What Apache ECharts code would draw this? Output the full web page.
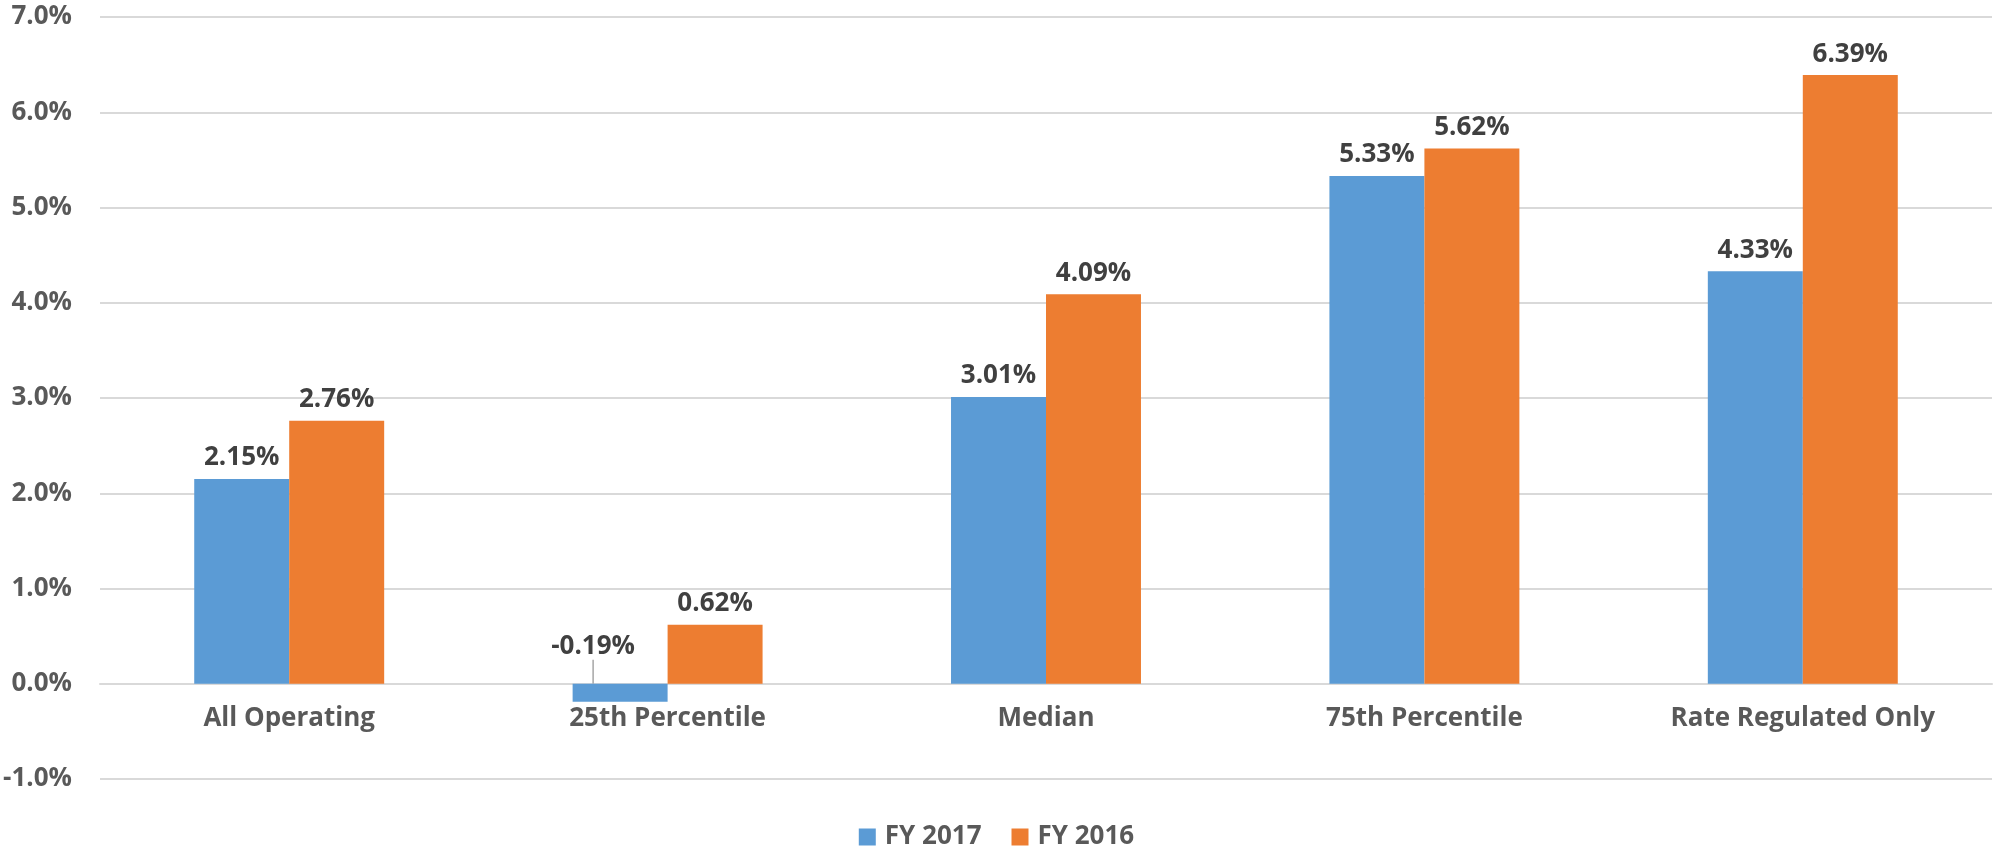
<!DOCTYPE html>
<html>
<head>
<meta charset="utf-8">
<title>Operating margin</title>
<script src="https://cdn.jsdelivr.net/npm/echarts@6/dist/echarts.min.js"></script>
<style>
  html, body { margin: 0; padding: 0; background: #fff; }
  #chartMain { width: 1993px; height: 850px; }
</style>
</head>
<body>
<div id="chartMain"></div>
<script>
// categories and values (percent)
var categories = ['All Operating', '25th Percentile', 'Median', '75th Percentile', 'Rate Regulated Only'];
var fy2017 = [2.15, -0.19, 3.01, 5.33, 4.33];
var fy2016 = [2.76, 0.62, 4.09, 5.62, 6.39];
var seriesNames = ['FY 2017', 'FY 2016'];

var fontFamily = '"Open Sans", "DejaVu Sans", sans-serif';
var yMin = -1, yMax = 7;
var gridTop = 17, gridBottom = 71, chartHeight = 850;

function pctLabel(p) {
    return p.value.toFixed(2) + '%';
}

var labelStyle = {
    show: true,
    position: 'top',
    distance: 8,
    formatter: pctLabel,
    color: '#404040',
    fontFamily: fontFamily,
    fontWeight: 'bold',
    fontSize: 26
};

// negative values get a leader line like the original
var fy2017Items = fy2017.map(function (v) {
    if (v < 0) {
        return { value: v, labelLine: { show: true, lineStyle: { color: '#a6a6a6', width: 1.5 } } };
    }
    return v;
});

// move the category axis up to the zero line
var plotH = chartHeight - gridTop - gridBottom;
var zeroOffset = -plotH * (0 - yMin) / (yMax - yMin);

var option = {
    animation: false,
    textStyle: { fontFamily: fontFamily },
    grid: { left: 100, right: 1, top: gridTop, bottom: gridBottom, containLabel: false },
    legend: {
        data: seriesNames,
        left: 'center',
        top: 819,
        itemWidth: 17,
        itemHeight: 17,
        itemGap: 30,
        icon: 'rect',
        textStyle: { color: '#595959', fontSize: 26, fontWeight: 'bold', fontFamily: fontFamily, padding: [0, 0, 0, 4] }
    },
    xAxis: {
        type: 'category',
        data: categories,
        offset: zeroOffset,
        axisTick: { show: false },
        axisLine: { onZero: false, lineStyle: { color: '#d9d9d9', width: 2 } },
        axisLabel: { color: '#595959', fontSize: 26, fontWeight: 'bold', margin: 22, interval: 0 }
    },
    yAxis: {
        type: 'value',
        min: yMin,
        max: yMax,
        interval: 1,
        axisLine: { show: false },
        axisTick: { show: false },
        splitLine: { lineStyle: { color: '#d9d9d9', width: 2 } },
        axisLabel: {
            color: '#595959', fontSize: 26, fontWeight: 'bold', margin: 28,
            formatter: function (v) { return v.toFixed(1) + '%'; }
        }
    },
    series: [{
        name: seriesNames[0],
        type: 'bar',
        data: fy2017Items,
        barGap: '0%',
        barCategoryGap: '49.8%',
        itemStyle: { color: '#5B9BD5' },
        label: labelStyle,
        labelLayout: function (p) {
            // lift the negative label above the zero line, a bit to the left
            if (fy2017[p.dataIndex] < 0) {
                return { dx: -27, dy: -16 };
            }
        }
    }, {
        name: seriesNames[1],
        type: 'bar',
        data: fy2016,
        barGap: '0%',
        barCategoryGap: '49.8%',
        itemStyle: { color: '#ED7D31' },
        label: labelStyle
    }]
};

var myChart = echarts.init(document.getElementById('chartMain'));
myChart.setOption(option);
</script>
</body>
</html>
